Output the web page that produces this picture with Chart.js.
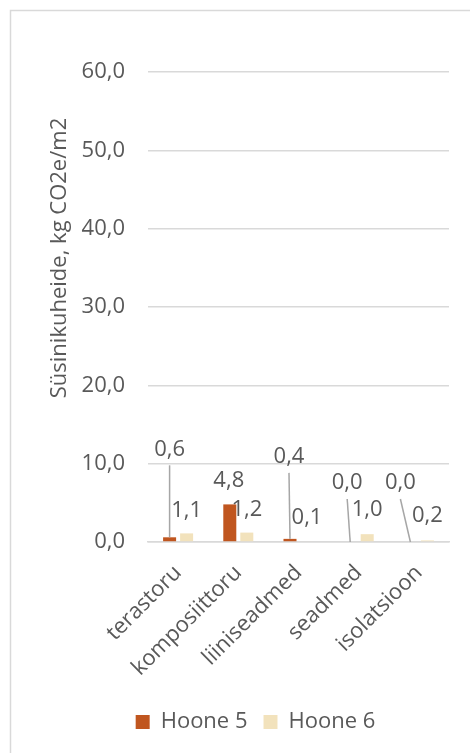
<!DOCTYPE html>
<html>
<head>
<meta charset="utf-8">
<script src="https://cdn.jsdelivr.net/npm/chart.js@4"></script>
<style>
  html, body { margin: 0; padding: 0; background: #fff; }
  #wrap { width: 470px; height: 753px; }
</style>
</head>
<body>
<div id="wrap"><canvas id="chart"></canvas></div>
<script>
const categories = ['terastoru', 'komposiittoru', 'liiniseadmed', 'seadmed', 'isolatsioon'];
const hoone5 = [0.6, 4.8, 0.4, 0.0, 0.0];
const hoone6 = [1.1, 1.2, 0.1, 1.0, 0.2];
const yTicks = [0, 10, 20, 30, 40, 50, 60];

const grey = '#595959';
const fontFamily = '"Open Sans", "Noto Sans", sans-serif';
const fmt = v => v.toFixed(1).replace('.', ',');

// label offsets from the bar top (Excel moved some labels by hand)
const labelMoves = [
  [[0, -88, true], [-1, -24, false], [-1, -82, true], [-3, -59, true], [-10, -59, true]],
  [[0, -23, false], [0, -23, false], [0, -23, false], [0, -24, false], [0, -25, false]]
];

const frame = {
  id: 'frame',
  beforeDraw(chart) {
    const c = chart.ctx;
    c.save();
    c.strokeStyle = '#d9d9d9';
    c.lineWidth = 1.5;
    c.strokeRect(10.5, 10.5, 700, 900);
    // y axis title
    c.translate(60, 258);
    c.rotate(-Math.PI / 2);
    c.fillStyle = grey;
    c.font = '22px ' + fontFamily;
    c.textAlign = 'center';
    c.textBaseline = 'middle';
    c.fillText('Süsinikuheide, kg CO2e/m2', 0, 0);
    c.restore();
  }
};

const barLabels = {
  id: 'barLabels',
  afterDatasetsDraw(chart) {
    const c = chart.ctx;
    c.save();
    c.font = '22px ' + fontFamily;
    c.fillStyle = grey;
    c.textAlign = 'center';
    c.textBaseline = 'middle';
    chart.data.datasets.forEach((ds, i) => {
      chart.getDatasetMeta(i).data.forEach((bar, j) => {
        const m = labelMoves[i][j];
        const lx = bar.x + m[0], ly = bar.y + m[1];
        if (m[2]) {
          c.strokeStyle = '#a6a6a6';
          c.lineWidth = 1.5;
          c.beginPath();
          c.moveTo(lx, ly + 16);
          c.lineTo(bar.x, bar.y);
          c.stroke();
        }
        c.fillText(fmt(ds.data[j]), lx, ly);
      });
    });
    c.restore();
  }
};

new Chart(document.getElementById('chart'), {
  type: 'bar',
  data: {
    labels: categories,
    datasets: [
      { label: 'Hoone 5', data: hoone5, backgroundColor: '#c0561f' },
      { label: 'Hoone 6', data: hoone6, backgroundColor: '#f2e2bc' }
    ]
  },
  options: {
    responsive: true,
    maintainAspectRatio: false,
    animation: false,
    categoryPercentage: 0.565,
    barPercentage: 0.765,
    layout: { padding: { top: 72, right: 21, left: 62, bottom: 10 } },
    plugins: {
      legend: {
        position: 'bottom',
        labels: {
          color: grey,
          font: { size: 22, family: fontFamily },
          boxWidth: 14,
          boxHeight: 14,
          padding: 16
        }
      },
      tooltip: { enabled: false }
    },
    scales: {
      x: {
        grid: { display: false },
        border: { color: '#d9d9d9', width: 1.5 },
        ticks: {
          color: grey,
          font: { size: 22, family: fontFamily },
          minRotation: 45,
          maxRotation: 45,
          padding: 10
        },
        afterFit(scale) { scale.height = 153; }
      },
      y: {
        min: 0,
        max: 60,
        afterBuildTicks(scale) { scale.ticks = yTicks.map(v => ({ value: v })); },
        grid: { color: '#d9d9d9', lineWidth: 1.5, drawTicks: false },
        border: { display: false },
        ticks: {
          color: grey,
          font: { size: 22, family: fontFamily },
          padding: 23,
          callback: v => fmt(v)
        },
        afterFit(scale) { scale.width = 86; }
      }
    }
  },
  plugins: [frame, barLabels]
});
</script>
</body>
</html>
